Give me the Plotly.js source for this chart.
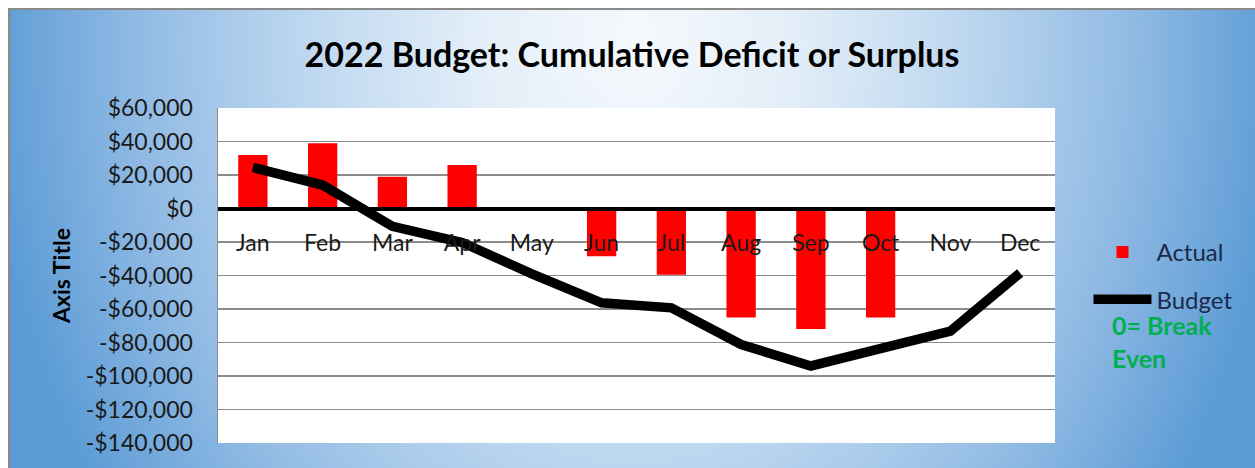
<!DOCTYPE html>
<html>
<head>
<meta charset="utf-8">
<script src="https://cdn.plot.ly/plotly-3.0.1.min.js"></script>
<style>
  html, body { margin:0; padding:0; background:#ffffff; }
  #wrap { position:relative; width:1255px; height:468px; overflow:hidden; }
  #bg { position:absolute; left:8px; top:8px; width:1247px; height:460px;
        border-top:2px solid #8a8a8a; border-left:2px solid #8a8a8a; box-sizing:border-box;
        background: radial-gradient(ellipse 650px 820px at 625px 30px,
          #f6f9fd 0%, #e3eef8 24%, #bed8f0 50%, #92bbe4 76%, #5b9bd5 100%); }
  #chart { position:absolute; left:0; top:0; width:1255px; height:468px; }
</style>
</head>
<body>
<div id="wrap">
  <div id="bg"></div>
  <div id="chart"></div>
</div>
<script>
// ---- data ----
const months = ['Jan','Feb','Mar','Apr','May','Jun','Jul','Aug','Sep','Oct','Nov','Dec'];
const actual = [32000, 39000, 19000, 26000, 0, -28500, -39500, -65000, -72000, -65000, null, null];
const budget = [24500, 14000, -10600, -20300, -39000, -56300, -59300, -81200, -94000, -83500, -73200, -38500];
const yTickVals = [60000, 40000, 20000, 0, -20000, -40000, -60000, -80000, -100000, -120000, -140000];
const yTickText = ['$60,000','$40,000','$20,000','$0','-$20,000','-$40,000','-$60,000','-$80,000','-$100,000','-$120,000','-$140,000'];
const yMin = -140000, yMax = 60000;

const FONT = 'Lato, "Open Sans", sans-serif';

const traces = [
  { type:'bar', name:'Actual', x:months, y:actual,
    marker:{ color:'#ff0000' }, legendgroup:'a' },
  { type:'scatter', mode:'lines', name:'Budget', x:months, y:budget,
    line:{ color:'#000000', width:9.5 }, legendgroup:'b' }
];

const layout = {
  width:1255, height:468,
  margin:{ l:218, r:200, t:108, b:25 },
  paper_bgcolor:'rgba(0,0,0,0)',
  plot_bgcolor:'#ffffff',
  font:{ family:FONT, color:'#1a1a1a' },
  bargap:0.58,
  title:{ text:'2022 Budget: Cumulative Deficit or Surplus',
          font:{ family:FONT, size:34, color:'#000000', weight:700 },
          xref:'container', x:632/1255, xanchor:'center',
          yref:'container', y:1-55/468, yanchor:'middle' },
  xaxis:{ type:'category', range:[-0.5, 11.5],
          anchor:'free', position:(0 - yMin)/(yMax - yMin),
          showline:true, linecolor:'#000000', linewidth:4,
          showgrid:false, zeroline:false,
          ticks:'outside', ticklen:13, tickcolor:'rgba(0,0,0,0)',
          tickfont:{ family:FONT, size:23, color:'#1a1a1a' } },
  yaxis:{ range:[yMin, yMax], tickvals:yTickVals, ticktext:yTickText,
          showgrid:true, gridcolor:'#8c8c8c', gridwidth:1.5,
          showline:true, linecolor:'#8c8c8c', linewidth:1.5,
          zeroline:false,
          ticks:'outside', ticklen:19, tickcolor:'rgba(0,0,0,0)',
          tickfont:{ family:FONT, size:23, color:'#1a1a1a' },
          title:{ text:'Axis Title', standoff:8,
                  font:{ family:FONT, size:23, color:'#000000', weight:700 } } },
  legend:{ x:1.04, xanchor:'left', y:0.636, yanchor:'top',
           bgcolor:'rgba(0,0,0,0)', itemwidth:58, tracegroupgap:13,
           font:{ family:FONT, size:24, color:'#1b2a4a' } },
  annotations:[
    { text:'0= Break<br>Even', xref:'paper', yref:'paper',
      x:(1110-218)/837, xanchor:'left', y:(443-308)/335, yanchor:'top',
      align:'left', showarrow:false,
      font:{ family:FONT, size:25, color:'#00b050', weight:700 } }
  ],
  showlegend:true
};

Plotly.newPlot('chart', traces, layout, { displayModeBar:false, staticPlot:true });
</script>
</body>
</html>
